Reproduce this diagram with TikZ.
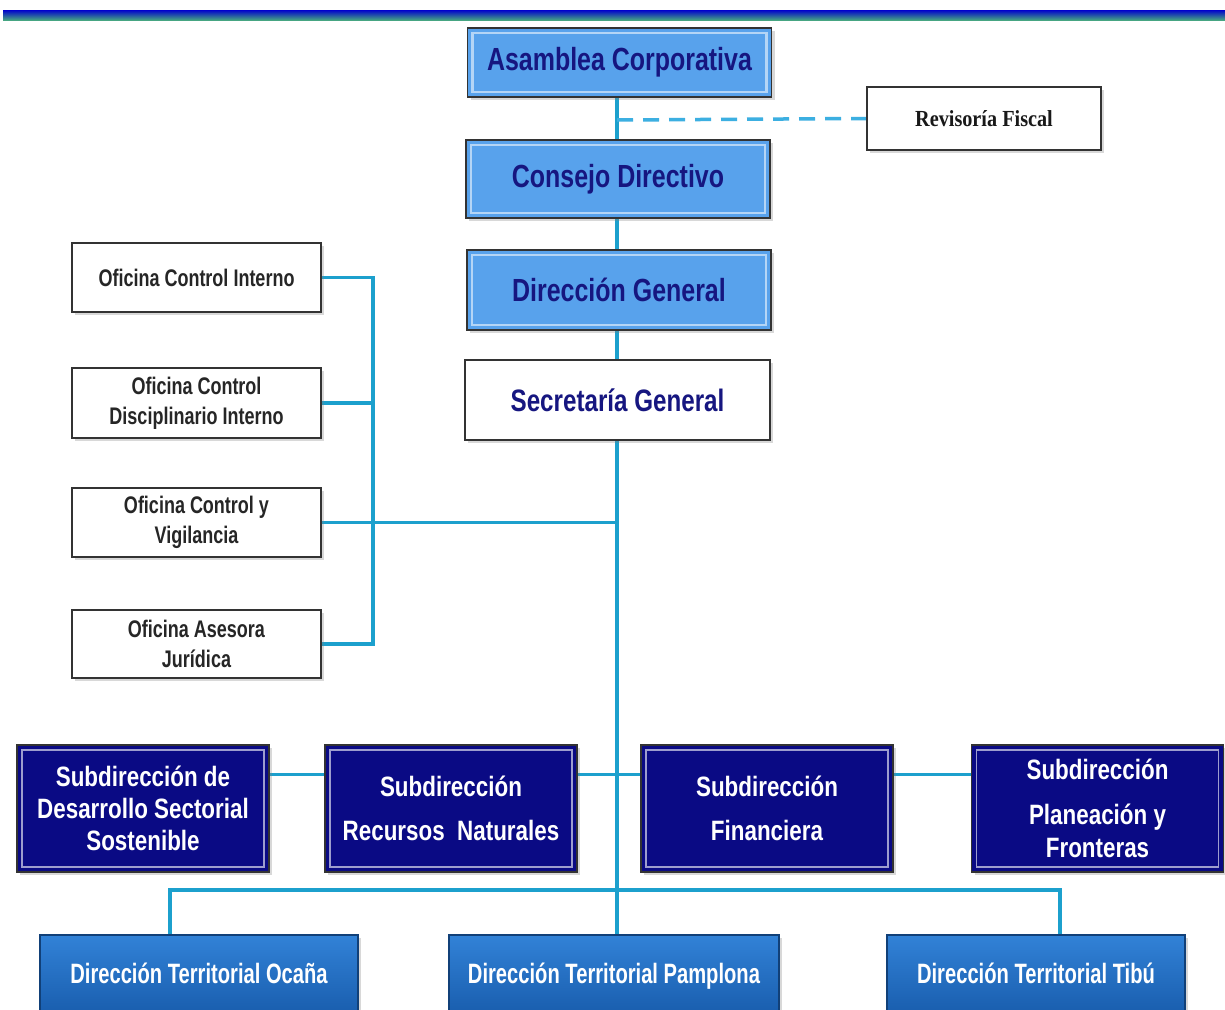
\documentclass[tikz,border=0pt]{standalone}
\usepackage{fontspec}
\setmainfont{Liberation Sans}
\newfontfamily\cond{Liberation Sans}[FakeStretch=0.8]
\newfontfamily\condb{Liberation Sans}[FakeStretch=0.78]
\newfontfamily\condo{Liberation Sans}[FakeStretch=0.75]
\newfontfamily\condt{Liberation Sans}[FakeStretch=0.72]
\newfontfamily\condser{Liberation Serif}[FakeStretch=0.88]
\usetikzlibrary{shadows,backgrounds}
\pgfdeclarelayer{bottom}
\pgfsetlayers{bottom,background,main}
\definecolor{topblue}{RGB}{88,162,236}
\definecolor{navytext}{RGB}{22,22,128}
\definecolor{subnavy}{RGB}{10,10,132}
\definecolor{terblue}{RGB}{24,92,172}
\definecolor{terlight}{RGB}{50,130,215}
\definecolor{linec}{RGB}{28,160,205}
\definecolor{dashc}{RGB}{60,175,225}
\tikzset{
  base/.style={rectangle, draw=black!80, line width=1.6pt, align=center, inner sep=0pt,
    drop shadow={shadow xshift=3pt, shadow yshift=-3pt, opacity=0.3}},
  topbox/.style={base, fill=topblue, minimum width=304pt, text=navytext,
    font=\condb\bfseries\fontsize{32}{34}\selectfont,
    path picture={\draw[topblue!45!white, line width=2.5pt]
      ([shift={(5pt,-5pt)}]path picture bounding box.north west) rectangle
      ([shift={(-5pt,5pt)}]path picture bounding box.south east);}},
  secbox/.style={base, fill=white, minimum width=305pt, minimum height=80pt, text=navytext,
    font=\condb\bfseries\fontsize{31}{33}\selectfont},
  offbox/.style={base, fill=white, minimum width=249pt, text=black!85,
    font=\condo\bfseries\fontsize{24}{30}\selectfont},
  revbox/.style={base, fill=white, minimum width=234pt, minimum height=63pt, text=black!90,
    font=\condser\bfseries\fontsize{23}{25}\selectfont},
  subbox/.style={base, fill=subnavy, minimum width=252pt, minimum height=127pt, text=white,
    font=\cond\bfseries\fontsize{28}{32}\selectfont,
    path picture={\draw[subnavy!40!white, line width=1.5pt]
      ([shift={(5pt,-5pt)}]path picture bounding box.north west) rectangle
      ([shift={(-5pt,5pt)}]path picture bounding box.south east);}},
  terbox/.style={base, draw=terblue!70!black, top color=terlight, bottom color=terblue,
    minimum height=82pt, text height=21pt, text depth=6pt, text=white,
    font=\condt\bfseries\fontsize{28}{30}\selectfont},
  conn/.style={draw=linec, line width=3.5pt},
  dconn/.style={draw=dashc, line width=3.5pt, dash pattern=on 16pt off 10pt}
}
\begin{document}
\begin{tikzpicture}[x=1pt,y=-1pt]
\useasboundingbox (0,0) rectangle (1225,1009);
\clip (0,0) rectangle (1225,1009);
\begin{pgfonlayer}{bottom}
\fill[white] (0,0) rectangle (1225,1009);
\end{pgfonlayer}
% top bar
\shade[top color={rgb,255:red,0;green,0;blue,205}, bottom color={rgb,255:red,70;green,165;blue,130}]
  (3,10) rectangle (1225,20);

% central column
\node[topbox, minimum height=69pt] (asam) at (619.5,62.5) {Asamblea Corporativa};
\node[topbox, minimum height=78pt] (cons) at (618,179) {Consejo Directivo};
\node[topbox, minimum height=80pt] (dirg) at (619,290) {Dirección General};
\node[secbox] (secg) at (617.5,400) {Secretaría General};
\node[revbox] (rev) at (984,118.5) {Revisoría Fiscal};

% left offices
\node[offbox, minimum height=69pt] (oci) at (196.5,277.5) {Oficina Control Interno};
\node[offbox, minimum height=70pt] (ocdi) at (196.5,403) {Oficina Control\\Disciplinario Interno};
\node[offbox, minimum height=69pt] (ocv) at (196.5,522.5) {Oficina Control y\\Vigilancia};
\node[offbox, minimum height=68pt] (oaj) at (196.5,644) {Oficina Asesora\\Jurídica};

% subdirecciones
\node[subbox] (sd1) at (143,808.5) {Subdirección de\\Desarrollo Sectorial\\Sostenible};
\node[subbox] (sd2) at (451,808.5) {Subdirección\\[12pt]Recursos\ \ Naturales};
\node[subbox] (sd3) at (767,808.5) {Subdirección\\[12pt]Financiera};
\node[subbox] (sd4) at (1097.5,808.5) {Subdirección\\[13pt]Planeación y\\[1pt]Fronteras};

% territoriales
\node[terbox, minimum width=318pt] (t1) at (199,976) {Dirección Territorial Ocaña};
\node[terbox, minimum width=330pt] (t2) at (614,976) {Dirección Territorial Pamplona};
\node[terbox, minimum width=298pt] (t3) at (1036,976) {Dirección Territorial Tibú};

\coordinate (dj) at (617,120);
\coordinate (lbus) at (373,277.5);
\coordinate (bus) at (617,890);

\begin{scope}[on background layer]
  \draw[conn] (617,97) -- (617,935);
  \draw[dconn] (dj) -- (rev.west);
  \draw[conn] (oci.east) -- (lbus) |- (oaj.east);
  \draw[conn] (ocdi.east) -- (lbus |- ocdi.east);
  \draw[conn] (ocv.east) -- (secg.south |- ocv.east);
  \draw[conn] ([yshift=34pt]sd1.east) -- ([yshift=34pt]sd2.west);
  \draw[conn] ([yshift=34pt]sd2.east) -- ([yshift=34pt]sd3.west);
  \draw[conn] ([yshift=34pt]sd3.east) -- ([yshift=34pt]sd4.west);
  \draw[conn] ([xshift=-29pt]t1.north) |- (bus) -| ([xshift=24pt]t3.north);
\end{scope}
\end{tikzpicture}
\end{document}
